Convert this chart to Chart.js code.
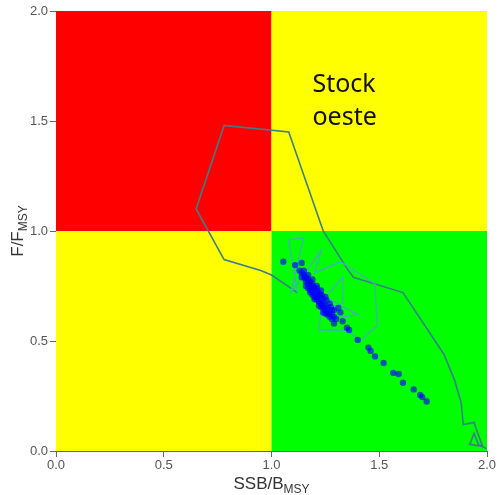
<!DOCTYPE html>
<html>
<head>
<meta charset="utf-8">
<script src="https://cdn.jsdelivr.net/npm/chart.js@4/dist/chart.umd.min.js"></script>
<style>
  html, body { margin: 0; padding: 0; background: #fff; }
  #wrap { width: 498px; height: 495px; }
</style>
</head>
<body>
<div id="wrap"><canvas id="kobe"></canvas></div>
<script>
// tick values for both axes
const xTicks = [0, 0.5, 1, 1.5, 2];
const yTicks = [0, 0.5, 1, 1.5, 2];

// historical trajectory (SSB/Bmsy, F/Fmsy)
const histB = [2.00, 1.96, 1.94, 1.92, 1.98, 1.95, 1.94, 1.89, 1.88, 1.85, 1.80, 1.61, 1.38, 1.35, 1.24, 1.08, 0.78, 0.65, 0.78, 0.95, 1.00, 1.12];
const histF = [0.01, 0.03, 0.08, 0.03, 0.02, 0.10, 0.13, 0.12, 0.22, 0.32, 0.44, 0.72, 0.79, 0.83, 1.00, 1.45, 1.48, 1.10, 0.87, 0.82, 0.80, 0.72];

// recent / projected tangle
const projB = [1.12, 1.08, 1.15, 1.12, 1.09, 1.23, 1.20, 1.32, 1.48, 1.49, 1.41, 1.35, 1.22, 1.23, 1.33, 1.33, 1.25, 1.40, 1.27, 1.30];
const projF = [0.72, 0.96, 0.97, 0.85, 0.72, 0.91, 0.81, 0.86, 0.76, 0.57, 0.50, 0.55, 0.55, 0.64, 0.67, 0.79, 0.70, 0.62, 0.60, 0.66];

// uncertainty points
const ptsB = [1.13, 1.14, 1.15, 1.14, 1.16, 1.17, 1.16, 1.18, 1.17, 1.19, 1.18, 1.20, 1.19, 1.21, 1.20, 1.22, 1.21, 1.23, 1.22, 1.24,
  1.23, 1.25, 1.24, 1.26, 1.25, 1.27, 1.26, 1.28, 1.27, 1.29, 1.30, 1.28, 1.16, 1.18, 1.20, 1.22, 1.24, 1.15, 1.17, 1.19,
  1.21, 1.23, 1.25, 1.27, 1.29, 1.055, 1.11, 1.14, 1.32, 1.33, 1.36, 1.40, 1.45, 1.46, 1.48, 1.52, 1.565, 1.59, 1.61, 1.66,
  1.69, 1.70, 1.72, 1.35, 1.31, 1.29,
  1.155, 1.175, 1.195, 1.215, 1.235, 1.255, 1.275, 1.19, 1.21, 1.23, 1.18, 1.20, 1.22, 1.24, 1.26, 1.28, 1.17, 1.19, 1.21, 1.23, 1.25];
const ptsF = [0.82, 0.81, 0.80, 0.79, 0.79, 0.78, 0.77, 0.77, 0.76, 0.75, 0.74, 0.74, 0.73, 0.72, 0.71, 0.71, 0.70, 0.69, 0.68, 0.68,
  0.67, 0.66, 0.65, 0.65, 0.64, 0.63, 0.62, 0.62, 0.61, 0.61, 0.60, 0.60, 0.75, 0.72, 0.69, 0.66, 0.63, 0.82, 0.80, 0.78,
  0.75, 0.73, 0.70, 0.67, 0.64, 0.86, 0.845, 0.855, 0.63, 0.59, 0.55, 0.505, 0.47, 0.455, 0.43, 0.40, 0.355, 0.35, 0.31, 0.28,
  0.255, 0.245, 0.225, 0.56, 0.65, 0.58,
  0.785, 0.765, 0.745, 0.725, 0.705, 0.685, 0.655, 0.76, 0.74, 0.71, 0.73, 0.70, 0.68, 0.66, 0.63, 0.64, 0.74, 0.71, 0.69, 0.655, 0.625];

const stockLabel = ['Stock', 'oeste'];

function toXY(xs, ys) {
    return xs.map((x, i) => ({ x: x, y: ys[i] }));
}

// coloured quadrants behind the data, and the stock label on top
const quadrants = {
    id: 'quadrants',
    beforeDatasetsDraw(chart) {
        const ctx = chart.ctx;
        const xs = chart.scales.x, ys = chart.scales.y;
        const x0 = xs.getPixelForValue(0), x1 = xs.getPixelForValue(1), x2 = xs.getPixelForValue(2);
        const y0 = ys.getPixelForValue(0), y1 = ys.getPixelForValue(1), y2 = ys.getPixelForValue(2);
        ctx.save();
        ctx.fillStyle = '#ff0000';
        ctx.fillRect(x0, y2, x1 - x0, y1 - y2);
        ctx.fillStyle = '#ffff00';
        ctx.fillRect(x1, y2, x2 - x1, y1 - y2);
        ctx.fillRect(x0, y1, x1 - x0, y0 - y1);
        ctx.fillStyle = '#00ff00';
        ctx.fillRect(x1, y1, x2 - x1, y0 - y1);
        ctx.restore();
    },
    afterDatasetsDraw(chart) {
        const ctx = chart.ctx;
        const xs = chart.scales.x, ys = chart.scales.y;
        ctx.save();
        ctx.fillStyle = '#111';
        ctx.font = '25px "Noto Sans", sans-serif';
        ctx.textBaseline = 'alphabetic';
        ctx.fillText(stockLabel[0], xs.getPixelForValue(1.19), ys.getPixelForValue(1.63));
        ctx.fillText(stockLabel[1], xs.getPixelForValue(1.19), ys.getPixelForValue(1.48));
        ctx.restore();
    }
};

// axis titles with subscript
function subText(ctx, main, sub, x, y, size) {
    ctx.font = size + 'px "Liberation Sans", Arial, sans-serif';
    const w1 = ctx.measureText(main).width;
    ctx.font = Math.round(size * 0.68) + 'px "Liberation Sans", Arial, sans-serif';
    const w2 = ctx.measureText(sub).width;
    const start = x - (w1 + w2) / 2;
    ctx.font = size + 'px "Liberation Sans", Arial, sans-serif';
    ctx.fillText(main, start, y);
    ctx.font = Math.round(size * 0.68) + 'px "Liberation Sans", Arial, sans-serif';
    ctx.fillText(sub, start + w1, y + size * 0.25);
}

const axisTitles = {
    id: 'axisTitles',
    afterDraw(chart) {
        const ctx = chart.ctx;
        const a = chart.chartArea;
        ctx.save();
        ctx.fillStyle = '#333';
        ctx.textAlign = 'left';
        ctx.textBaseline = 'alphabetic';
        subText(ctx, 'SSB/B', 'MSY', (a.left + a.right) / 2, 489, 17);
        ctx.translate(23, (a.top + a.bottom) / 2);
        ctx.rotate(-Math.PI / 2);
        subText(ctx, 'F/F', 'MSY', 0, 0, 17);
        ctx.restore();
    }
};

const tickFont = { family: '"Liberation Sans", Arial, sans-serif', size: 13 };

new Chart(document.getElementById('kobe'), {
    type: 'scatter',
    data: {
        datasets: [{
            label: 'points',
            data: toXY(ptsB, ptsF),
            backgroundColor: 'rgba(0, 0, 255, 0.65)',
            borderWidth: 0,
            pointRadius: 3.2
        }, {
            label: 'recent',
            data: toXY(projB, projF),
            showLine: true,
            borderColor: '#45aebb',
            borderWidth: 1.3,
            pointRadius: 0,
            fill: false
        }, {
            label: 'history',
            data: toXY(histB, histF),
            showLine: true,
            borderColor: '#3a7e8a',
            borderWidth: 1.6,
            pointRadius: 0,
            fill: false
        }]
    },
    options: {
        responsive: true,
        maintainAspectRatio: false,
        animation: false,
        layout: { padding: { top: 11, right: 11, left: 0, bottom: 0 } },
        plugins: {
            legend: { display: false },
            tooltip: { enabled: false }
        },
        scales: {
            x: {
                type: 'linear',
                min: 0,
                max: 2,
                afterFit: s => { s.height = 44; },
                afterBuildTicks: s => { s.ticks = xTicks.map(v => ({ value: v })); },
                ticks: { color: '#555', font: tickFont, padding: 1, callback: v => v.toFixed(1) },
                grid: { drawOnChartArea: false, tickLength: 6, color: '#666' },
                border: { color: '#666' }
            },
            y: {
                type: 'linear',
                min: 0,
                max: 2,
                afterFit: s => { s.width = 56; },
                afterBuildTicks: s => { s.ticks = yTicks.map(v => ({ value: v })); },
                ticks: { color: '#555', font: tickFont, padding: 2, callback: v => v.toFixed(1) },
                grid: { drawOnChartArea: false, tickLength: 6, color: '#666' },
                border: { color: '#666' }
            }
        }
    },
    plugins: [quadrants, axisTitles]
});
</script>
</body>
</html>
